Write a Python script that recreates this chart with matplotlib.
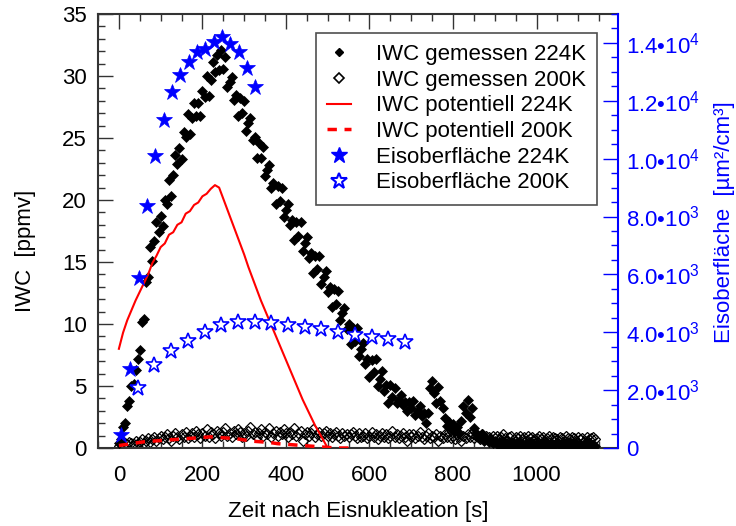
import numpy as np
import matplotlib
matplotlib.use("Agg")
import matplotlib.pyplot as plt
from matplotlib.ticker import MultipleLocator, FuncFormatter
from matplotlib.lines import Line2D

plt.rcParams['font.family'] = ['Liberation Sans', 'DejaVu Sans']
plt.rcParams['mathtext.fontset'] = 'custom'
plt.rcParams['mathtext.rm'] = 'Liberation Sans'
plt.rcParams['mathtext.it'] = 'Liberation Sans'
plt.rcParams['mathtext.bf'] = 'Liberation Sans'

# ---------------- data ----------------
# sampling times of the measured IWC (s)
t_meas = np.arange(0, 1141, 5)

iwc_224 = [
    0.4, 0.7, 1.7, 2.0, 3.4, 3.8, 5.0, 5.2, 6.3, 7.2,
    7.9, 10.2, 10.4, 13.4, 13.8, 16.2, 15.1, 16.7, 18.2, 17.4,
    18.7, 17.9, 20.0, 19.7, 21.6, 20.3, 22.0, 23.6, 22.9, 24.2,
    23.3, 25.5, 25.1, 26.9, 25.3, 26.6, 27.8, 26.8, 27.8, 26.8,
    28.8, 28.3, 30.0, 28.4, 29.7, 31.1, 30.3, 31.7, 30.5, 32.1,
    30.6, 31.5, 29.1, 29.5, 29.9, 28.1, 28.5, 26.8, 28.2, 27.0,
    28.0, 25.6, 26.2, 26.6, 24.8, 25.1, 23.4, 24.6, 23.4, 24.3,
    21.9, 22.4, 22.8, 21.0, 21.4, 19.7, 21.1, 19.9, 21.0, 18.6,
    19.2, 19.7, 18.0, 18.4, 16.8, 18.2, 17.1, 18.2, 15.9, 16.5,
    17.0, 15.3, 15.7, 14.1, 15.5, 14.4, 15.5, 13.2, 13.8, 14.3,
    12.6, 13.0, 11.4, 12.8, 11.6, 12.7, 10.3, 10.9, 11.3, 9.6,
    10.0, 8.4, 9.7, 8.6, 9.7, 7.4, 8.0, 8.5, 6.8, 7.2,
    5.7, 7.1, 6.1, 7.2, 5.0, 5.6, 6.2, 4.6, 5.1, 3.6,
    5.1, 4.1, 4.8, 3.6, 3.9, 4.3, 3.5, 3.7, 3.0, 3.7,
    3.2, 3.8, 2.7, 3.0, 3.4, 2.6, 2.8, 2.0, 2.8, 4.8,
    5.4, 4.4, 3.6, 4.9, 3.8, 3.2, 2.4, 1.8, 2.1, 1.5,
    1.9, 1.4, 1.7, 1.2, 2.2, 3.4, 2.8, 3.9, 2.5, 3.2,
    1.6, 1.2, 1.0, 0.8, 1.1, 0.6, 0.8, 0.5, 0.7, 0.4,
    0.6, 0.3, 0.5, 0.2, 0.6, 0.3, 0.4, 0.1, 0.5, 0.2,
    0.4, 0.1, 0.5, 0.3, 0.2, 0.4, 0.1, 0.5, 0.3, 0.2,
    0.4, 0.1, 0.3, 0.5, 0.2, 0.3, 0.1, 0.4, 0.2, 0.3,
    0.5, 0.2, 0.1, 0.4, 0.3, 0.2, 0.5, 0.1, 0.3, 0.4,
    0.2, 0.3, 0.1, 0.4, 0.2, 0.5, 0.3, 0.1, 0.2,
]

iwc_200 = [
    0.2, 0.3, 0.2, 0.4, 0.3, 0.5, 0.4, 0.3, 0.6, 0.4,
    0.5, 0.7, 0.4, 0.6, 0.8, 0.5, 0.7, 0.9, 0.6, 0.8,
    1.0, 0.7, 0.9, 1.1, 0.8, 0.6, 1.0, 1.2, 0.9, 0.7,
    1.1, 0.9, 1.3, 0.8, 1.0, 1.2, 0.9, 1.4, 1.1, 0.8,
    1.2, 1.0, 1.5, 0.9, 1.3, 1.1, 0.8, 1.4, 1.2, 1.0,
    1.3, 1.6, 1.0, 1.2, 0.9, 1.4, 1.1, 1.5, 1.3, 0.9,
    1.2, 1.0, 1.4, 1.7, 1.1, 1.3, 0.9, 1.2, 1.5, 1.0,
    1.3, 1.1, 1.6, 0.9, 1.2, 1.4, 1.0, 1.3, 1.1, 1.5,
    1.2, 0.9, 1.3, 1.1, 1.6, 1.0, 1.2, 1.4, 0.6, 1.1,
    1.3, 1.0, 1.2, 1.5, 0.9, 1.1, 1.3, 1.0, 1.2, 1.4,
    1.0, 1.2, 0.9, 1.1, 1.3, 1.0, 0.8, 1.2, 1.0, 1.1,
    0.9, 1.1, 1.3, 1.0, 0.8, 1.2, 0.9, 1.0, 1.2, 0.8,
    1.0, 1.3, 0.9, 1.1, 0.7, 1.0, 1.2, 0.9, 1.1, 0.8,
    1.0, 1.4, 0.9, 1.1, 0.8, 1.0, 1.2, 0.9, 0.6, 1.1,
    0.9, 1.1, 0.8, 1.0, 1.3, 0.9, 0.7, 1.0, 1.2, 0.8,
    1.0, 0.9, 1.1, 0.6, 1.0, 0.8, 1.1, 0.9, 1.3, 0.8,
    1.0, 0.7, 1.1, 0.9, 0.6, 1.0, 0.8, 1.1, 0.9, 1.2,
    0.8, 1.0, 0.9, 0.7, 1.1, 0.8, 1.0, 0.9, 0.6, 1.0,
    0.8, 1.0, 0.7, 0.9, 1.1, 0.8, 0.6, 0.9, 1.0, 0.7,
    0.9, 0.8, 1.0, 0.7, 0.9, 0.6, 1.0, 0.8, 0.9, 0.7,
    0.8, 1.0, 0.7, 0.9, 0.6, 0.8, 1.0, 0.7, 0.9, 0.8,
    0.7, 0.9, 0.8, 0.6, 1.0, 0.8, 0.7, 0.9, 0.8, 0.6,
    0.9, 0.7, 0.8, 0.6, 0.9, 0.7, 0.8, 0.9, 0.7,
]

# potential IWC (model)
t_pot_224 = [0, 10, 20, 30, 40, 50, 60, 70, 80, 90, 100, 110, 120, 130, 140,
             150, 160, 170, 180, 190, 200, 210, 220, 230, 240, 250, 260, 270,
             280, 290, 300, 310, 320, 330, 340, 350, 360, 370, 380, 390, 400,
             410, 420, 430, 440, 450, 460, 470, 480, 490, 500]
pot_224 = [8.0, 9.3, 10.3, 11.1, 11.9, 12.6, 13.3, 14.0, 14.9, 15.5, 16.2,
           16.5, 17.2, 17.4, 18.0, 18.2, 18.9, 19.1, 19.6, 19.8, 20.3, 20.5,
           20.9, 21.2, 21.0, 20.1, 19.2, 18.3, 17.4, 16.5, 15.6, 14.6, 13.7,
           12.8, 11.9, 11.1, 10.3, 9.5, 8.7, 7.9, 7.1, 6.3, 5.5, 4.7, 3.9,
           3.2, 2.5, 1.8, 1.2, 0.6, 0.0]

t_pot_200 = [0, 20, 40, 60, 80, 100, 120, 140, 160, 180, 200, 220, 240, 260,
             280, 300, 320, 340, 360, 380, 400, 420, 440, 460, 480, 500, 520,
             540, 560]
pot_200 = [0.2, 0.3, 0.4, 0.5, 0.55, 0.6, 0.65, 0.7, 0.75, 0.8, 0.85, 0.9,
           0.85, 0.8, 0.75, 0.65, 0.55, 0.5, 0.45, 0.35, 0.3, 0.25, 0.2, 0.15,
           0.1, 0.05, 0.0, 0.0, 0.0]

# ice surface area (um^2/cm^3)
t_sa_224 = [5, 27, 47, 67, 87, 107, 127, 147, 167, 187, 207, 227, 247, 267,
            287, 307, 327]
sa_224 = [450, 2730, 5875, 8360, 10090, 11335, 12300, 12890, 13340, 13685,
          13790, 14030, 14200, 13960, 13685, 13130, 12475]

t_sa_200 = [45, 85, 125, 165, 205, 245, 285, 325, 365, 405, 445, 485, 525,
            565, 605, 645, 685]
sa_200 = [2063, 2868, 3352, 3708, 3998, 4251, 4365, 4365, 4310, 4251, 4192,
          4102, 4019, 3905, 3846, 3756, 3673]

# ---------------- figure ----------------
W, H = 736, 526
fig = plt.figure(figsize=(W / 100, H / 100), dpi=100)
ax = fig.add_axes([98 / W, (H - 448) / H, 520 / W, 434 / H])
ax2 = ax.twinx()

FS = 16
axis_gray = '#333333'
blue = '#0000ff'

ax.plot(t_meas, iwc_200, linestyle='none', marker='D', ms=5.5, mfc='none',
        mec='black', mew=0.9, zorder=2)
ax.plot(t_meas, iwc_224, linestyle='none', marker='D', ms=4.6, mfc='black',
        mec='black', mew=0.5, zorder=3)
ax.plot(t_pot_224, pot_224, color='red', lw=1.5, zorder=4)
ax.plot(t_pot_200, pot_200, color='red', lw=2.5, dashes=(2.7, 2.2), zorder=4)

ax2.plot(t_sa_224, sa_224, linestyle='none', marker='*', ms=12, mfc=blue,
         mec=blue, mew=0.5)
ax2.plot(t_sa_200, sa_200, linestyle='none', marker='*', ms=12, mfc='white',
         mec=blue, mew=1.2)

ax.set_xlim(-50, 1195)
ax.set_ylim(0, 35)
ax2.set_ylim(0, 15000)

ax.xaxis.set_major_locator(MultipleLocator(200))
ax.xaxis.set_minor_locator(MultipleLocator(50))
ax.yaxis.set_major_locator(MultipleLocator(5))
ax.yaxis.set_minor_locator(MultipleLocator(1))
ax2.yaxis.set_major_locator(MultipleLocator(2000))
ax2.yaxis.set_minor_locator(MultipleLocator(500))


def sa_fmt(v, pos):
    if abs(v) < 1e-9:
        return '0'
    if v < 0:
        return ''
    e = int(np.floor(np.log10(v)))
    m = v / 10 ** e
    return r'$\mathregular{%.1f•10^{%d}}$' % (m, e)


ax2.yaxis.set_major_formatter(FuncFormatter(sa_fmt))

ax.tick_params(axis='both', which='both', direction='in', top=True,
               right=False, colors=axis_gray, labelcolor='black',
               labelsize=FS, width=1)
ax.tick_params(axis='both', which='major', length=11)
ax.tick_params(axis='both', which='minor', length=5)
ax.tick_params(axis='y', pad=8)
ax.tick_params(axis='x', pad=12)
ax2.tick_params(axis='y', which='both', direction='in', colors=blue,
                labelcolor=blue, labelsize=FS, width=1, pad=6)
ax2.tick_params(axis='y', which='major', length=11)
ax2.tick_params(axis='y', which='minor', length=5)

for s in ['left', 'top', 'bottom']:
    ax.spines[s].set_color(axis_gray)
    ax.spines[s].set_linewidth(1.5)
    ax2.spines[s].set_visible(False)
ax.spines['right'].set_visible(False)
ax2.spines['right'].set_color(blue)
ax2.spines['right'].set_linewidth(1.5)

ax.set_xlabel('Zeit nach Eisnukleation [s]', fontsize=FS)
ax.xaxis.set_label_coords(0.5, -(501 - 448) / 434)
ax.set_ylabel('IWC  [ppmv]', fontsize=FS)
ax.yaxis.set_label_coords((36 - 98) / 520, 0.454)
ax2.set_ylabel('Eisoberfläche  [µm²/cm³]', fontsize=FS, color=blue)
ax2.yaxis.set_label_coords((714 - 98) / 520, 0.52)

handles = [
    Line2D([], [], linestyle='none', marker='D', ms=4, mfc='black', mec='black'),
    Line2D([], [], linestyle='none', marker='D', ms=5, mfc='none', mec='black', mew=1.2),
    Line2D([], [], color='red', lw=1.5),
    Line2D([], [], color='red', lw=2.5, dashes=(2.7, 2.2)),
    Line2D([], [], linestyle='none', marker='*', ms=12, mfc=blue, mec=blue),
    Line2D([], [], linestyle='none', marker='*', ms=12, mfc='white', mec=blue, mew=1.5),
]
labels = ['IWC gemessen 224K', 'IWC gemessen 200K', 'IWC potentiell 224K',
          'IWC potentiell 200K', 'Eisoberfläche 224K', 'Eisoberfläche 200K']
leg = ax2.legend(handles, labels, loc='upper right',
                 bbox_to_anchor=(597 / W, 1 - 33 / H),
                 bbox_transform=fig.transFigure, fontsize=FS, frameon=True,
                 fancybox=False, borderaxespad=0, labelspacing=0.21,
                 handlelength=1.1, handletextpad=1.1, borderpad=0.5)
leg.get_frame().set_edgecolor('#222222')
leg.get_frame().set_linewidth(1.2)

fig.savefig('out.png', dpi=100)
